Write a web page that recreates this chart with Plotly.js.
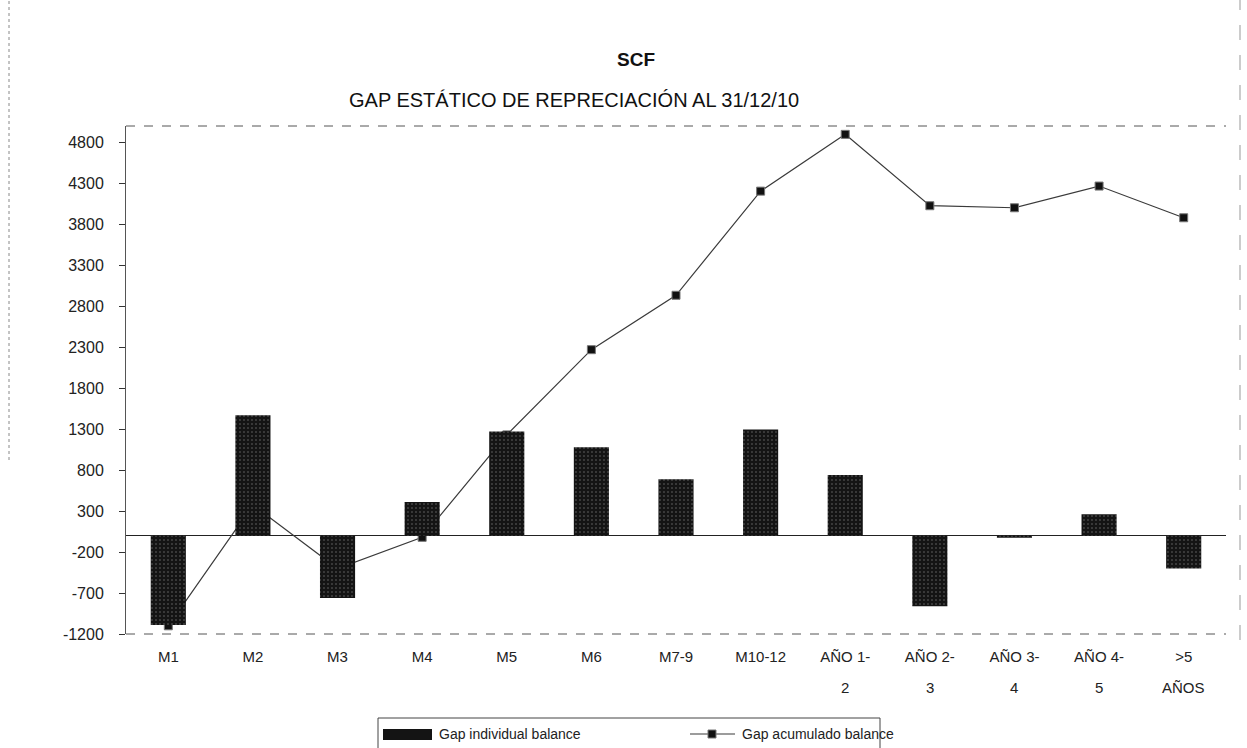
<!DOCTYPE html>
<html>
<head>
<meta charset="utf-8">
<script src="https://cdn.plot.ly/plotly-3.0.1.min.js"></script>
<style>html,body{margin:0;padding:0;background:#fff;}#chart{width:1247px;height:748px;}</style>
</head>
<body>
<div id="chart"></div>
<script>
const categories = ['M1','M2','M3','M4','M5','M6','M7-9','M10-12','AÑO 1-2','AÑO 2-3','AÑO 3-4','AÑO 4-5','>5 AÑOS'];
const tickLine1 = ['M1','M2','M3','M4','M5','M6','M7-9','M10-12','AÑO 1-','AÑO 2-','AÑO 3-','AÑO 4-','>5'];
const tickLine2 = ['','','','','','','','','2','3','4','5','AÑOS'];
const gapIndividual = [-1090, 1470, -760, 410, 1270, 1080, 690, 1295, 740, -860, -25, 260, -400];
const gapAcumulado = [-1100, 375, -400, -20, 1230, 2270, 2934, 4205, 4898, 4027, 4002, 4267, 3880];
const yTickVals = [-1200, -700, -200, 300, 800, 1300, 1800, 2300, 2800, 3300, 3800, 4300, 4800];
const yTickText = ['-1200', '-700', '-200', '300', '800', '1300', '1800', '2300', '2800', '3300', '3800', '4300', '4800'];
const seriesNames = ['Gap individual balance', 'Gap acumulado balance'];
const titleTop = 'SCF';
const titleMain = 'GAP ESTÁTICO DE REPRECIACIÓN AL 31/12/10';
const yRange = [-1200, 5000];

const FONT = 'Liberation Sans, Arial, sans-serif';
const BAR_COLOR = '#141414';
const LINE_COLOR = '#3a3a3a';

// line on the base subplot, bars on an overlay so that bars hide the line like the original
const traces = [
  {
    type: 'scatter', mode: 'lines+markers', x: categories, y: gapAcumulado, name: seriesNames[1],
    xaxis: 'x', yaxis: 'y', showlegend: false,
    line: {color: LINE_COLOR, width: 1.2},
    marker: {symbol: 'square', size: 8, color: '#111', line: {color: '#777', width: 1}}
  },
  {
    type: 'bar', x: categories, y: gapIndividual, name: seriesNames[0],
    xaxis: 'x', yaxis: 'y2', showlegend: false,
    marker: {color: BAR_COLOR, line: {width: 0},
      pattern: {shape: '.', fgcolor: '#6a6a6a', bgcolor: BAR_COLOR, size: 4, solidity: 0.12}}
  }
];

// pixel helpers for the hand-made legend / titles (plot area: x 126..1226, y 634..126)
const PL = 126, PR = 1226, PB = 634, PT = 126;
const px = v => (v - PL) / (PR - PL);
const py = v => (PB - v) / (PB - PT);

const annotations = [
  {text: '<b>' + titleTop + '</b>', xref: 'paper', yref: 'paper', x: px(636), y: py(59),
   xanchor: 'center', yanchor: 'middle', showarrow: false, font: {family: FONT, size: 19, color: '#111'}},
  {text: titleMain, xref: 'paper', yref: 'paper', x: px(574), y: py(100),
   xanchor: 'center', yanchor: 'middle', showarrow: false, font: {family: FONT, size: 20, color: '#111'}},
  {text: seriesNames[0], xref: 'paper', yref: 'paper', x: px(437), y: py(734),
   xanchor: 'left', yanchor: 'middle', showarrow: false, font: {family: FONT, size: 14, color: '#222'}},
  {text: seriesNames[1], xref: 'paper', yref: 'paper', x: px(740), y: py(734),
   xanchor: 'left', yanchor: 'middle', showarrow: false, font: {family: FONT, size: 14, color: '#222'}}
];
tickLine2.forEach((t, i) => {
  if (t) annotations.push({text: t, xref: 'x', yref: 'paper', x: categories[i], y: py(687),
    xanchor: 'center', yanchor: 'middle', showarrow: false, font: {family: FONT, size: 15, color: '#222'}});
});

const shapes = [
  // plot frame (dashed top and bottom)
  {type: 'line', xref: 'paper', yref: 'paper', x0: 0, x1: 1, y0: 1, y1: 1, line: {color: '#555', width: 1, dash: 'dash'}},
  {type: 'line', xref: 'paper', yref: 'paper', x0: 0, x1: 1, y0: 0, y1: 0, line: {color: '#555', width: 1, dash: 'dash'}},
  // outer page frame remnants
  {type: 'line', xref: 'paper', yref: 'paper', x0: px(9), x1: px(9), y0: py(460), y1: py(0), line: {color: '#888', width: 1, dash: 'dot'}},
  {type: 'line', xref: 'paper', yref: 'paper', x0: px(1240), x1: px(1240), y0: py(640), y1: py(0), line: {color: '#999', width: 1, dash: 'longdash'}},
  // legend box
  {type: 'rect', xref: 'paper', yref: 'paper', x0: px(378), x1: px(880), y0: py(718), y1: py(770),
   line: {color: '#444', width: 1}, fillcolor: 'rgba(0,0,0,0)'},
  // legend swatch for bars
  {type: 'rect', xref: 'paper', yref: 'paper', x0: px(383), x1: px(432), y0: py(729), y1: py(740),
   line: {width: 0}, fillcolor: BAR_COLOR},
  // legend swatch for line
  {type: 'line', xref: 'paper', yref: 'paper', x0: px(690), x1: px(735), y0: py(734), y1: py(734),
   line: {color: LINE_COLOR, width: 1.2}},
  {type: 'rect', xref: 'paper', yref: 'paper', x0: px(708), x1: px(716), y0: py(730), y1: py(738),
   line: {color: '#777', width: 1}, fillcolor: '#111'}
];

const layout = {
  width: 1247, height: 748,
  margin: {l: PL, r: 1247 - PR, t: PT, b: 748 - PB},
  paper_bgcolor: '#fff', plot_bgcolor: '#fff',
  font: {family: FONT, color: '#222', size: 14},
  showlegend: false,
  barmode: 'group', bargap: 0.585,
  xaxis: {
    type: 'category', range: [-0.5, categories.length - 0.5],
    tickvals: categories, ticktext: tickLine1,
    showgrid: false, showline: false, zeroline: false, ticks: '',
    tickfont: {family: FONT, size: 15, color: '#222'}, ticklabelstandoff: 12
  },
  yaxis: {
    range: yRange, tickmode: 'array', tickvals: yTickVals, ticktext: yTickText,
    showgrid: false, showline: true, linecolor: '#555', linewidth: 1,
    ticks: 'outside', ticklen: 6, tickcolor: '#333',
    zeroline: true, zerolinecolor: '#222', zerolinewidth: 1.5,
    tickfont: {family: FONT, size: 16, color: '#222'}, ticklabelstandoff: 12
  },
  yaxis2: {
    overlaying: 'y', range: yRange, visible: false, showgrid: false, zeroline: false
  },
  annotations: annotations,
  shapes: shapes
};

Plotly.newPlot('chart', traces, layout, {displayModeBar: false, staticPlot: true});
</script>
</body>
</html>
